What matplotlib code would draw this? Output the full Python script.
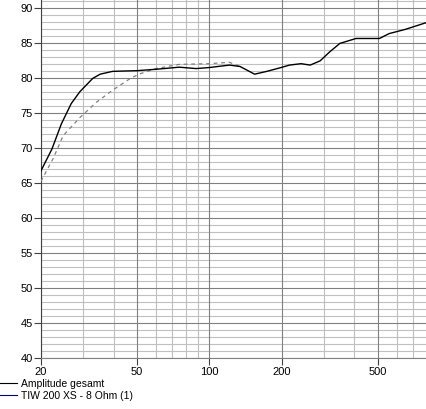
import numpy as np
import matplotlib
matplotlib.use("Agg")
import matplotlib.pyplot as plt
from matplotlib.lines import Line2D

plt.rcParams['font.family'] = ['Liberation Sans', 'DejaVu Sans']

# frequency response
freq_total = [20, 22.2, 24.3, 26.7, 29, 32.8, 35.2, 39.6, 44, 50, 60, 75, 88, 100, 121, 134,
              154, 173, 196, 215, 240, 262, 288, 316, 348, 406, 508, 557, 650, 800]
db_total = [66.8, 69.9, 73.5, 76.4, 78.1, 80.0, 80.6, 81.0, 81.05, 81.1, 81.3, 81.6, 81.4, 81.55,
            81.9, 81.7, 80.6, 81.0, 81.5, 81.9, 82.1, 81.9, 82.5, 83.8, 85.0, 85.7, 85.7, 86.4, 87.0, 88.0]

freq_driver = [20, 22.5, 24.7, 29, 34, 39.6, 47, 51, 60, 75, 100, 121, 134]
db_driver = [65.3, 68.6, 71.8, 74.4, 76.6, 78.3, 80.0, 80.6, 81.4, 82.0, 82.1, 82.3, 81.7]

yticks = [40, 45, 50, 55, 60, 65, 70, 75, 80, 85, 90]
xticks = [20, 50, 100, 200, 500]
xminor = [30, 40, 60, 70, 80, 90, 300, 400, 600, 700, 800]

fig = plt.figure(figsize=(4.27, 4.09), dpi=100)
ax = fig.add_axes([41 / 427, 1 - 358.3 / 409, 1 - 41 / 427, 358.3 / 409])
ax.set_xscale("log")
ax.set_xlim(20, 800)
ax.set_ylim(40, 91.2)

# grid: light every 1 dB / minor freq, darker on major
for v in range(40, 92):
    if v % 5:
        ax.axhline(v, color="#c0c0c0", lw=0.8, zorder=1)
for v in xminor:
    ax.axvline(v, color="#c0c0c0", lw=0.8, zorder=1)
for v in yticks:
    ax.axhline(v, color="#808080", lw=0.8, zorder=2)
for v in xticks:
    ax.axvline(v, color="#808080", lw=0.8, zorder=2)

ax.plot(freq_driver, db_driver, color="#808080", lw=0.9, ls=(0, (3, 3)), zorder=3)
ax.plot(freq_total, db_total, color="black", lw=1.0, zorder=4)

ax.set_xticks(xticks)
ax.set_xticklabels([str(x) for x in xticks])
ax.minorticks_off()
ax.set_yticks(yticks)
ax.tick_params(labelsize=8, length=5, width=0.8, color="#404040", pad=1)
for s in ["top", "right"]:
    ax.spines[s].set_visible(False)
ax.spines["left"].set_color("#404040")
ax.spines["left"].set_linewidth(0.8)
ax.spines["bottom"].set_color("#808080")
ax.spines["bottom"].set_linewidth(0.8)

handles = [Line2D([], [], color="black", lw=0.8),
           Line2D([], [], color="#000080", lw=0.8)]
fig.legend(handles, ["Amplitude gesamt", "TIW 200 XS - 8 Ohm (1)"],
           loc="upper left", bbox_to_anchor=(-0.008, 1 - 379 / 409), frameon=False,
           fontsize=7.5, handlelength=2.0, handletextpad=0.3, labelspacing=0.15,
           borderaxespad=0, borderpad=0)

fig.savefig("out.png", dpi=100)
